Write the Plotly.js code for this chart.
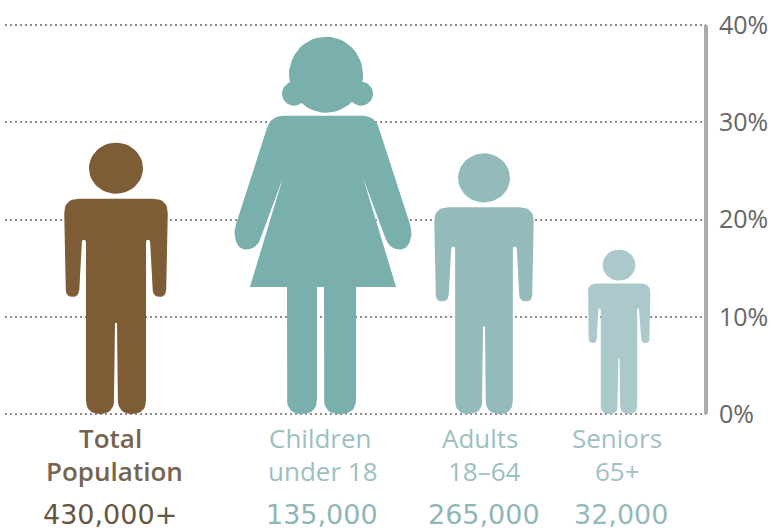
<!DOCTYPE html>
<html><head><meta charset="utf-8">
<script src="https://cdn.plot.ly/plotly-3.0.1.min.js"></script>
<style>html,body{margin:0;padding:0;background:#fff}</style></head>
<body><div id="chart" style="width:776px;height:531px"></div>
<script>
// data
const groupLine1 = ["Total","Children","Adults","Seniors"];
const groupLine2 = ["Population","under 18","18–64","65+"];
const groupCounts = ["430,000+","135,000","265,000","32,000"];
const shares = [27.9,38.8,26.8,16.9];
const figureKinds = ["man","woman","man","man"];
const yTicks = [0,10,20,30,40];

// styles and placement
const fillColors = ["#7d5c36","#79afad","#93bbbc","#abc9ca"];
const textColors = ["#75644f","#9cbfbf","#9cbfbf","#a0c1c2"];
const countColors = ["#665540","#8fb6b6","#8fb6b6","#94b9ba"];
const labelWeights = [600,500,500,500];
const W=776,H=531,L=5,R=706,T=25,B=414,PAD=4;
const pxPerUnit=(B-T)/40;
const xMax=(R-L)/pxPerUnit;
const padUnits=PAD/pxPerUnit;
const toX=px=>(px-L)/pxPerUnit;
const toPaperY=py=>(B+PAD-py)/(B-T+2*PAD);
const figureCentres=[116,323,484,619].map(toX);
const line1Centres=[110,320,480,617].map(toX);
const line2Centres=[114,323,484,617].map(toX);
const countCentres=[110,322,484,621].map(toX);

// icon outlines, in design units: [x,y,cornerRadius], left half, mirrored about x=0
const manOutline={height:271,
 ellipses:[[0,245.5,27,25.5]],
 halves:[[[-1,91,0],[-2,0,14],[-30,0,14],[-30,174,2],[-34,174,2],[-37,117,7],[-50,117,7],[-52,215,15]]],
 full:[]};
const womanOutline={height:377,
 ellipses:[[3,339,37,38],[3,322,31,17],[-29,320,12,12],[38,320,12,12]],
 halves:[[[-52,298,13],[-90,180,10],[-83,163,10],[-66,166,9],[-40,236,0],[-73,127,0]]],
 full:[[[-36,135,0],[-36,0,15],[-6,0,15],[-6,135,0]],[[1,135,0],[1,0,15],[33,0,15],[33,135,0]]]};
const outlines={man:manOutline,woman:womanOutline};

function rounded(poly){
 const out=[],n=poly.length;
 poly.forEach((p,i)=>{
  const a=poly[(i+n-1)%n],c=poly[(i+1)%n],r=p[2];
  if(!r){out.push([p[0],p[1]]);return;}
  const la=Math.hypot(a[0]-p[0],a[1]-p[1]),lc=Math.hypot(c[0]-p[0],c[1]-p[1]);
  const ra=Math.min(r,la/2),rc=Math.min(r,lc/2);
  const s=[p[0]+(a[0]-p[0])*ra/la,p[1]+(a[1]-p[1])*ra/la];
  const e=[p[0]+(c[0]-p[0])*rc/lc,p[1]+(c[1]-p[1])*rc/lc];
  for(let k=0;k<=8;k++){const t=k/8,u=1-t;
   out.push([u*u*s[0]+2*u*t*p[0]+t*t*e[0],u*u*s[1]+2*u*t*p[1]+t*t*e[1]]);}
 });
 return out;
}
function loops(o){
 const res=[];
 o.ellipses.forEach(e=>{const l=[];for(let k=0;k<48;k++){const a=k/48*2*Math.PI;l.push([e[0]+e[2]*Math.cos(a),e[1]+e[3]*Math.sin(a)]);}res.push(l);});
 o.halves.forEach(h=>{const m=h.slice().reverse().map(p=>[-p[0],p[1],p[2]]);res.push(rounded(h.concat(m)));});
 o.full.forEach(f=>res.push(rounded(f)));
 return res;
}
const traces=shares.map((v,i)=>{
 const o=outlines[figureKinds[i]],s=v/o.height,xs=[],ys=[];
 loops(o).forEach(l=>{l.concat([l[0]]).forEach(p=>{xs.push(figureCentres[i]+p[0]*s);ys.push(p[1]*s);});xs.push(null);ys.push(null);});
 return {type:'scatter',mode:'lines',x:xs,y:ys,fill:'toself',fillcolor:fillColors[i],line:{width:0,color:fillColors[i]},hoverinfo:'skip',showlegend:false,cliponaxis:false};
});
const font='"Open Sans", sans-serif';
const anns=[];
function label(text,x,py,family,size,weight,color){anns.push({text,x,xref:'x',y:toPaperY(py),yref:'paper',showarrow:false,xanchor:'center',yanchor:'middle',font:{family,size,weight,color}});}
shares.forEach((_,i)=>{
 label(groupLine1[i],line1Centres[i],438,font,26,labelWeights[i],textColors[i]);
 label(groupLine2[i],line2Centres[i],471,font,26,labelWeights[i],textColors[i]);
 label(groupCounts[i],countCentres[i],514,'"DejaVu Sans", sans-serif',27,400,countColors[i]);
});
Plotly.newPlot('chart',traces,{
 width:W,height:H,margin:{l:L,r:W-R,t:T-PAD,b:H-B-PAD,pad:0},showlegend:false,
 paper_bgcolor:'#fff',plot_bgcolor:'#fff',
 xaxis:{range:[0,xMax],visible:false,fixedrange:true},
 yaxis:{range:[-padUnits,40+padUnits],side:'right',tickvals:yTicks,ticktext:yTicks.map(t=>t+'%'),showgrid:true,gridcolor:'#8c8c8c',gridwidth:2,griddash:'2px,3px',zeroline:false,showline:false,ticks:'',ticklabelstandoff:12,tickfont:{family:font,size:25,color:'#666'},fixedrange:true},
 shapes:[{type:'line',xref:'paper',yref:'y',x0:1,x1:1,y0:0,y1:40,line:{color:'#a9acaf',width:4}}],
 annotations:anns
},{displayModeBar:false,staticPlot:true});
</script></body></html>
